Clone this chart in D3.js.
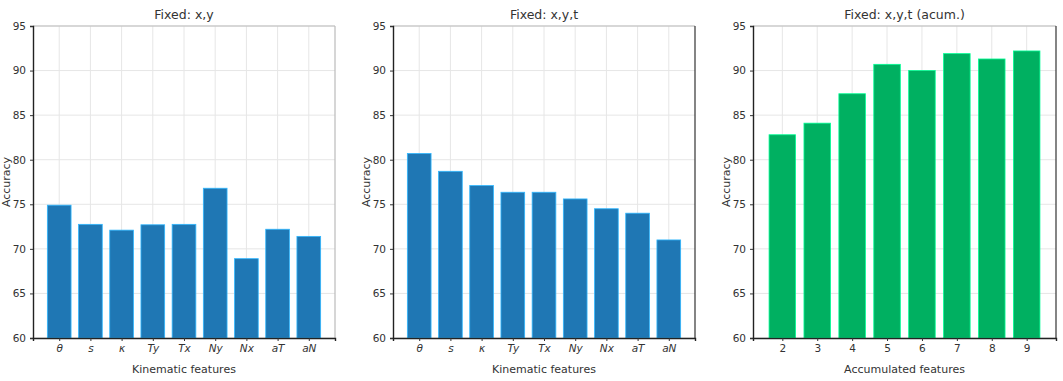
<!DOCTYPE html>
<html><head><meta charset="utf-8">
<script src="https://cdn.jsdelivr.net/npm/d3@7"></script>
<style>body{margin:0;background:#fff}svg{display:block}</style>
</head><body>
<svg id="c" width="1063" height="381"></svg>
<script>
const kinCats = ["θ","s","κ","Ty","Tx","Ny","Nx","aT","aN"];
const accCats = ["2","3","4","5","6","7","8","9"];
const valsXY = [74.9, 72.75, 72.1, 72.7, 72.75, 76.8, 68.9, 72.2, 71.4];
const valsXYT = [80.7, 78.7, 77.1, 76.35, 76.35, 75.6, 74.5, 74.0, 71.0];
const valsAcum = [82.8, 84.1, 87.4, 90.7, 90.0, 91.9, 91.3, 92.2];
const yTicks = [60,65,70,75,80,85,90,95];
const titles = ["Fixed: x,y","Fixed: x,y,t","Fixed: x,y,t (acum.)"];
const xLabels = ["Kinematic features","Kinematic features","Accumulated features"];

const panels = [
  {cats:kinCats, vals:valsXY, color:"#1f77b4", left:33, right:335, italic:true},
  {cats:kinCats, vals:valsXYT, color:"#1f77b4", left:393, right:695, italic:true},
  {cats:accCats, vals:valsAcum, color:"#00b061", left:753, right:1056, italic:false}
];
const plotTop = 26, plotBottom = 338;
const svg = d3.select("#c");

panels.forEach((p, i) => {
  const n = p.cats.length;
  const x = d3.scaleLinear().domain([-0.84, n - 1 + 0.84]).range([p.left, p.right]);
  const y = d3.scaleLinear().domain([60, 95]).range([plotBottom, plotTop]);
  const g = svg.append("g");
  // grid
  g.selectAll(".gx").data(d3.range(n)).join("line")
    .attr("x1", d => x(d)).attr("x2", d => x(d)).attr("y1", plotTop).attr("y2", plotBottom)
    .attr("stroke", "#e6e6e6").attr("stroke-width", 1);
  g.selectAll(".gy").data(yTicks).join("line")
    .attr("x1", p.left).attr("x2", p.right).attr("y1", d => y(d)).attr("y2", d => y(d))
    .attr("stroke", "#e6e6e6").attr("stroke-width", 1);
  // bars
  const bw = 0.76;
  g.selectAll(".bar").data(p.vals).join("rect")
    .attr("x", (d, k) => x(k - bw / 2)).attr("width", x(bw) - x(0))
    .attr("y", d => y(d)).attr("height", d => y(60) - y(d))
    .attr("fill", p.color).attr("stroke", d3.color(p.color).brighter(1.2)).attr("stroke-width", 0.8);
  // spines
  g.append("line").attr("x1", p.left).attr("x2", p.right).attr("y1", plotTop).attr("y2", plotTop)
    .attr("stroke", "#bbb").attr("stroke-width", 1.2);
  g.append("line").attr("x1", p.right).attr("x2", p.right).attr("y1", plotTop).attr("y2", plotBottom)
    .attr("stroke", i === 0 ? "#bbb" : "#333").attr("stroke-width", 1.2);
  // axes
  const ya = d3.axisLeft(y).tickValues(yTicks).tickSize(3).tickPadding(4);
  const yg = g.append("g").attr("transform", `translate(${p.left},0)`).call(ya);
  yg.select(".domain").attr("stroke", "#222").attr("stroke-width", 1.4);
  yg.selectAll("text").attr("font-family", "DejaVu Sans").attr("font-size", 10.5).attr("fill", "#333");
  yg.selectAll(".tick line").attr("stroke", "#333");
  const xa = d3.axisBottom(x).tickValues(d3.range(n)).tickFormat(k => p.cats[k]).tickSize(3).tickPadding(4);
  const xg = g.append("g").attr("transform", `translate(0,${plotBottom})`).call(xa);
  xg.select(".domain").attr("stroke", "#222").attr("stroke-width", 1.4);
  xg.selectAll("text").attr("font-family", "DejaVu Sans").attr("font-size", 10.5).attr("fill", "#333")
    .attr("font-style", p.italic ? "italic" : "normal");
  xg.selectAll(".tick line").attr("stroke", "#333");
  // titles
  g.append("text").attr("x", (p.left + p.right) / 2).attr("y", 19).attr("text-anchor", "middle")
    .attr("font-family", "DejaVu Sans").attr("font-size", 12.5).attr("fill", "#333").text(titles[i]);
  g.append("text").attr("x", (p.left + p.right) / 2).attr("y", 373).attr("text-anchor", "middle")
    .attr("font-family", "DejaVu Sans").attr("font-size", 11).attr("fill", "#333").text(xLabels[i]);
  g.append("text").attr("transform", `translate(${p.left - 23},${(plotTop + plotBottom) / 2}) rotate(-90)`)
    .attr("text-anchor", "middle").attr("font-family", "DejaVu Sans").attr("font-size", 11).attr("fill", "#333")
    .text("Accuracy");
});
</script>
</body></html>
